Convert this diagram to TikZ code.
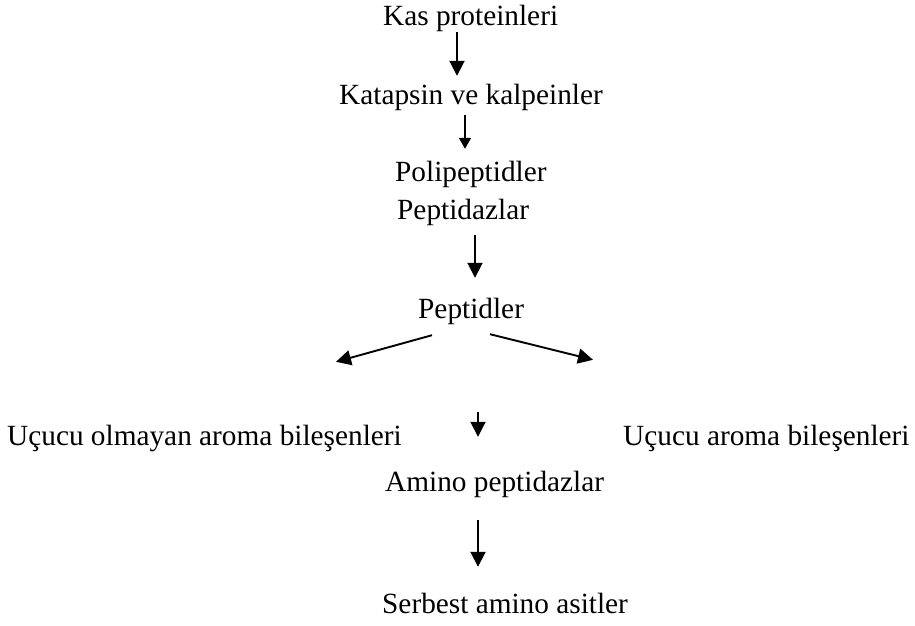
\documentclass[tikz,border=0pt]{standalone}
\usepackage{fontspec}
\setmainfont{Liberation Serif}
\usetikzlibrary{arrows.meta,calc}
\begin{document}
\begin{tikzpicture}[x=1bp,y=-1bp,
  lbl/.style={anchor=base west,inner sep=0pt,text height=20bp,text depth=6bp,font=\fontsize{29.3bp}{35bp}\selectfont},
  arr/.style={line width=1.9bp,-{Triangle[length=15bp,width=15bp]}},
  arrs/.style={line width=1.6bp,-{Triangle[length=11bp,width=12bp]}}]
\useasboundingbox (0,0) rectangle (915,626);
\node[lbl] (kas)   at (383,26)  {Kas proteinleri};
\node[lbl] (kat)   at (339,105) {Katapsin ve kalpeinler};
\node[lbl] (poli)  at (395,182) {Polipeptidler};
\node[lbl] (pepz)  at (397,220) {Peptidazlar};
\node[lbl] (pep)   at (418,318) {Peptidler};
\node[lbl] (left)  at (7,445)   {Uçucu olmayan aroma bileşenleri};
\node[lbl] (right) at (623,445) {Uçucu aroma bileşenleri};
\node[lbl] (amino) at (385,491) {Amino peptidazlar};
\node[lbl] (serb)  at (382,613) {Serbest amino asitler};
\draw[arr,shorten >=9bp] (kas.south -| 457,0) -- (kat.north -| 457,0);
\draw[arrs,shorten <=4bp,shorten >=13bp] (kat.south -| 465,0) -- (poli.north -| 465,0);
\draw[arr,shorten <=9bp,shorten >=20bp] (pepz.south -| 475,0) -- (pep.north -| 475,0);
\draw[arr,shorten <=88bp,shorten >=34bp] (pep.south -| 478,0) -- (amino.north -| 478,0);
\draw[arr,shorten <=23bp,shorten >=26bp] (amino.south -| 478,0) -- (serb.north -| 478,0);
\draw[arr] ([shift={(14,11)}]pep.south west) -- ([shift={(329,-63)}]left.north west);
\draw[arr] ([shift={(72,10)}]pep.south west) -- ([shift={(-30,-65)}]right.north west);
\end{tikzpicture}
\end{document}
